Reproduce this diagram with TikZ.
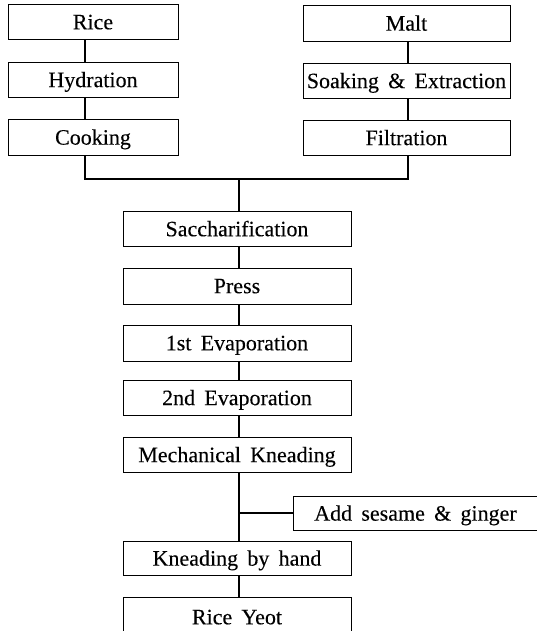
\documentclass[tikz,border=0pt]{standalone}
\usepackage{fontspec}
\setmainfont{Liberation Serif}
\newfontfamily\boxfont[FakeBold=0.15]{Liberation Serif}
\newcommand\boxtextstyle{\boxfont\fontsize{22}{24}\selectfont\spaceskip=0.42em plus 0.1em\relax}
\begin{document}
\begin{tikzpicture}[x=1pt,y=-1pt,
  box/.style={draw, line width=0.9pt, inner sep=0pt, font=\boxtextstyle, text depth=0pt},
  link/.style={line width=1.2pt}]
\useasboundingbox (0,0) rectangle (537,631);
\clip (0,0) rectangle (537,631);
% left column
\node[box, minimum width=170, minimum height=35] (rice) at (93,22) {Rice};
\node[box, minimum width=170, minimum height=35] (hyd) at (93,79.5) {Hydration};
\node[box, minimum width=170, minimum height=36] (cook) at (93,137) {Cooking};
% right column
\node[box, minimum width=207, minimum height=36] (malt) at (406.5,23) {Malt};
\node[box, minimum width=207, minimum height=35] (soak) at (406.5,80.5) {Soaking \& Extraction};
\node[box, minimum width=207, minimum height=35] (filt) at (406.5,137.5) {Filtration};
% center column
\node[box, minimum width=228, minimum height=35] (sacc) at (237,228.5) {Saccharification};
\node[box, minimum width=228, minimum height=36] (press) at (237,286) {Press};
\node[box, minimum width=228, minimum height=36] (evap1) at (237,343) {1st Evaporation};
\node[box, minimum width=228, minimum height=35] (evap2) at (237,397.5) {2nd Evaporation};
\node[box, minimum width=228, minimum height=35] (mech) at (237,454.5) {Mechanical Kneading};
\node[box, minimum width=244, minimum height=34] (add) at (415.5,513) {Add sesame \& ginger};
\node[box, minimum width=228, minimum height=34] (hand) at (237,558) {Kneading by hand};
\node[box, minimum width=228, minimum height=40] (yeot) at (237,617) {Rice Yeot};
% connectors
\coordinate (jl) at (85,179);
\coordinate (jr) at (408,179);
\coordinate (jc) at (239,179);
\coordinate (ja) at (239,513);
\draw[link] ([xshift=-8pt]rice.south) -- ([xshift=-8pt]hyd.north);
\draw[link] ([xshift=-8pt]hyd.south) -- ([xshift=-8pt]cook.north);
\draw[link] ([xshift=-8pt]cook.south) -- (jl) -- (jr) -- (filt.south -| jr);
\draw[link] (malt.south -| jr) -- (soak.north -| jr);
\draw[link] (soak.south -| jr) -- (filt.north -| jr);
\draw[link] (jc) -- (sacc.north -| jc);
\draw[link] (sacc.south -| jc) -- (press.north -| jc);
\draw[link] (press.south -| jc) -- (evap1.north -| jc);
\draw[link] (evap1.south -| jc) -- (evap2.north -| jc);
\draw[link] (evap2.south -| jc) -- (mech.north -| jc);
\draw[link] (mech.south -| jc) -- (hand.north -| jc);
\draw[link] (ja) -- (add.west);
\draw[link] (hand.south -| jc) -- (yeot.north -| jc);
\end{tikzpicture}
\end{document}
